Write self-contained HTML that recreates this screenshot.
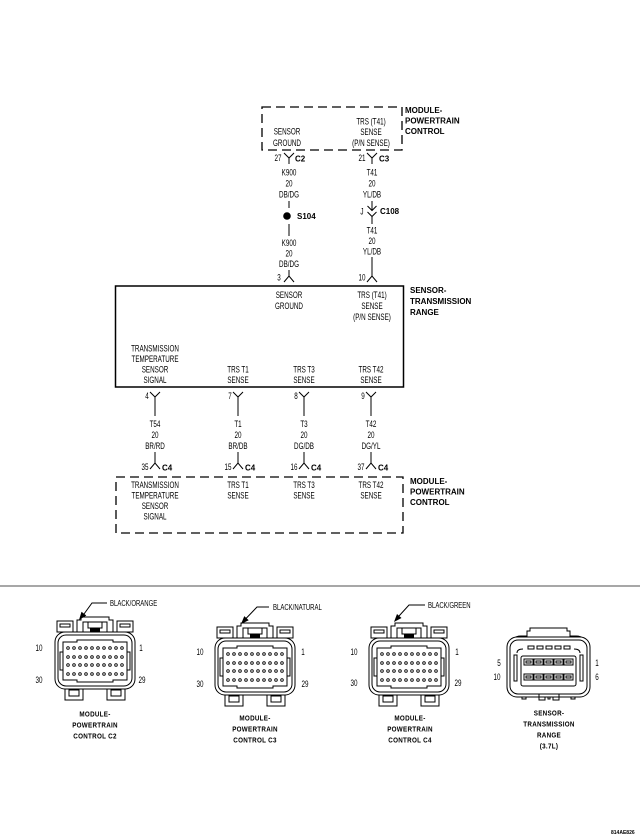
<!DOCTYPE html>
<html><head><meta charset="utf-8"><style>
html,body{margin:0;padding:0;background:#fff}
svg{display:block}
text{font-family:"Liberation Sans",sans-serif;fill:#000}
.n{font-size:9px;text-anchor:middle}
.l{font-size:8px}
.b{font-size:8px;font-weight:bold}
.t{font-size:7px;font-weight:bold;text-anchor:middle;letter-spacing:.3px}
</style></head><body>
<svg width="640" height="838" viewBox="0 0 640 838" xmlns="http://www.w3.org/2000/svg">
<g fill="none" stroke="#000" stroke-width="1.3">
<!-- top dashed box -->
<rect x="262" y="107" width="140" height="43" stroke-dasharray="9 5"/>
<!-- sensor box -->
<rect x="115.5" y="286" width="288" height="101" stroke-width="1.5"/>
<!-- bottom dashed box -->
<rect x="116" y="477" width="287" height="56" stroke-dasharray="9 5"/>
</g>
<g fill="none" stroke="#000" stroke-width="1">
<!-- left wire -->
<path d="M284 153 L289 158 L294 153 M289 158 V164"/>
<path d="M289 201 V208"/>
<path d="M289 224 V236"/>
<path d="M289 270 V276 M284 282 L289 276 L294 282"/>
<!-- right wire -->
<path d="M367 153 L372 158 L377 153 M372 158 V164"/>
<path d="M372 201 V210.5 M367.5 206 L372 210.5 L376.5 206 M367.5 212 L372 216.5 L376.5 212 M372 216.5 V224"/>
<path d="M372 257 V276 M367 282 L372 276 L377 282"/>
<!-- bottom wires -->
<path d="M150 392 L155 397 L160 392 M155 397 V416 M155 452 V463 M150 469 L155 463 L160 469"/>
<path d="M233 392 L238 397 L243 392 M238 397 V416 M238 452 V463 M233 469 L238 463 L243 469"/>
<path d="M299 392 L304 397 L309 392 M304 397 V416 M304 452 V463 M299 469 L304 463 L309 469"/>
<path d="M366 392 L371 397 L376 392 M371 397 V416 M371 452 V463 M366 469 L371 463 L376 469"/>
</g>
<circle cx="287" cy="216" r="3.8" fill="#000"/>

<!-- top box texts -->
<text class="n" transform="translate(287 134.7) scale(.7 1)">SENSOR</text>
<text class="n" transform="translate(287 146.2) scale(.7 1)">GROUND</text>
<text class="n" transform="translate(371 124.7) scale(.7 1)">TRS (T41)</text>
<text class="n" transform="translate(371 135.2) scale(.7 1)">SENSE</text>
<text class="n" transform="translate(371 146.2) scale(.7 1)">(P/N SENSE)</text>
<text class="b" x="405" y="113">MODULE-</text>
<text class="b" x="405" y="123.5">POWERTRAIN</text>
<text class="b" x="405" y="134">CONTROL</text>

<!-- left wire labels -->
<text class="n" transform="translate(278 161.2) scale(.7 1)">27</text>
<text class="b" x="295" y="161.5">C2</text>
<text class="n" transform="translate(289 175.7) scale(.7 1)">K900</text>
<text class="n" transform="translate(289 186.7) scale(.7 1)">20</text>
<text class="n" transform="translate(289 197.7) scale(.7 1)">DB/DG</text>
<text class="b" x="297" y="219">S104</text>
<text class="n" transform="translate(289 246.2) scale(.7 1)">K900</text>
<text class="n" transform="translate(289 256.7) scale(.7 1)">20</text>
<text class="n" transform="translate(289 267.2) scale(.7 1)">DB/DG</text>
<text class="n" transform="translate(279 280.7) scale(.7 1)">3</text>

<!-- right wire labels -->
<text class="n" transform="translate(362 161.2) scale(.7 1)">21</text>
<text class="b" x="379" y="161.5">C3</text>
<text class="n" transform="translate(372 175.7) scale(.7 1)">T41</text>
<text class="n" transform="translate(372 186.7) scale(.7 1)">20</text>
<text class="n" transform="translate(372 197.7) scale(.7 1)">YL/DB</text>
<text class="n" transform="translate(362 214.7) scale(.7 1)">J</text>
<text class="b" x="380" y="214">C108</text>
<text class="n" transform="translate(372 233.7) scale(.7 1)">T41</text>
<text class="n" transform="translate(372 244.2) scale(.7 1)">20</text>
<text class="n" transform="translate(372 254.7) scale(.7 1)">YL/DB</text>
<text class="n" transform="translate(362 280.7) scale(.7 1)">10</text>

<!-- sensor box texts -->
<text class="b" x="410" y="293">SENSOR-</text>
<text class="b" x="410" y="304">TRANSMISSION</text>
<text class="b" x="410" y="315">RANGE</text>
<text class="n" transform="translate(289 298.2) scale(.7 1)">SENSOR</text>
<text class="n" transform="translate(289 309.2) scale(.7 1)">GROUND</text>
<text class="n" transform="translate(372 298.2) scale(.7 1)">TRS (T41)</text>
<text class="n" transform="translate(372 309.2) scale(.7 1)">SENSE</text>
<text class="n" transform="translate(372 320.2) scale(.7 1)">(P/N SENSE)</text>
<text class="n" transform="translate(155 351.7) scale(.7 1)">TRANSMISSION</text>
<text class="n" transform="translate(155 362.2) scale(.7 1)">TEMPERATURE</text>
<text class="n" transform="translate(155 372.7) scale(.7 1)">SENSOR</text>
<text class="n" transform="translate(155 383.2) scale(.7 1)">SIGNAL</text>
<text class="n" transform="translate(238 372.7) scale(.7 1)">TRS T1</text>
<text class="n" transform="translate(238 383.2) scale(.7 1)">SENSE</text>
<text class="n" transform="translate(304 372.7) scale(.7 1)">TRS T3</text>
<text class="n" transform="translate(304 383.2) scale(.7 1)">SENSE</text>
<text class="n" transform="translate(371 372.7) scale(.7 1)">TRS T42</text>
<text class="n" transform="translate(371 383.2) scale(.7 1)">SENSE</text>

<!-- bottom wire labels -->
<text class="n" transform="translate(147 399.2) scale(.7 1)">4</text>
<text class="n" transform="translate(230 399.2) scale(.7 1)">7</text>
<text class="n" transform="translate(296 399.2) scale(.7 1)">8</text>
<text class="n" transform="translate(363 399.2) scale(.7 1)">9</text>

<text class="n" transform="translate(155 427.2) scale(.7 1)">T54</text>
<text class="n" transform="translate(155 438.2) scale(.7 1)">20</text>
<text class="n" transform="translate(155 449.2) scale(.7 1)">BR/RD</text>
<text class="n" transform="translate(238 427.2) scale(.7 1)">T1</text>
<text class="n" transform="translate(238 438.2) scale(.7 1)">20</text>
<text class="n" transform="translate(238 449.2) scale(.7 1)">BR/DB</text>
<text class="n" transform="translate(304 427.2) scale(.7 1)">T3</text>
<text class="n" transform="translate(304 438.2) scale(.7 1)">20</text>
<text class="n" transform="translate(304 449.2) scale(.7 1)">DG/DB</text>
<text class="n" transform="translate(371 427.2) scale(.7 1)">T42</text>
<text class="n" transform="translate(371 438.2) scale(.7 1)">20</text>
<text class="n" transform="translate(371 449.2) scale(.7 1)">DG/YL</text>

<text class="n" transform="translate(145 470.2) scale(.7 1)">35</text>
<text class="b" x="162" y="470.5">C4</text>
<text class="n" transform="translate(228 470.2) scale(.7 1)">15</text>
<text class="b" x="245" y="470.5">C4</text>
<text class="n" transform="translate(294 470.2) scale(.7 1)">16</text>
<text class="b" x="311" y="470.5">C4</text>
<text class="n" transform="translate(361 470.2) scale(.7 1)">37</text>
<text class="b" x="378" y="470.5">C4</text>

<!-- bottom box texts -->
<text class="b" x="410" y="484">MODULE-</text>
<text class="b" x="410" y="494.5">POWERTRAIN</text>
<text class="b" x="410" y="505">CONTROL</text>
<text class="n" transform="translate(155 488.2) scale(.7 1)">TRANSMISSION</text>
<text class="n" transform="translate(155 498.7) scale(.7 1)">TEMPERATURE</text>
<text class="n" transform="translate(155 509.2) scale(.7 1)">SENSOR</text>
<text class="n" transform="translate(155 519.7) scale(.7 1)">SIGNAL</text>
<text class="n" transform="translate(238 488.2) scale(.7 1)">TRS T1</text>
<text class="n" transform="translate(238 498.7) scale(.7 1)">SENSE</text>
<text class="n" transform="translate(304 488.2) scale(.7 1)">TRS T3</text>
<text class="n" transform="translate(304 498.7) scale(.7 1)">SENSE</text>
<text class="n" transform="translate(371 488.2) scale(.7 1)">TRS T42</text>
<text class="n" transform="translate(371 498.7) scale(.7 1)">SENSE</text>

<!-- separator -->
<line x1="0" y1="586" x2="640" y2="586" stroke="#8a8a8a" stroke-width="1.6"/>

<defs>
<g id="conn">
<g fill="none" stroke="#000" stroke-width="1">
<rect x="2" y="-11" width="16" height="11"/>
<rect x="5" y="-8" width="10" height="3"/>
<rect x="62" y="-11" width="16" height="11"/>
<rect x="65" y="-8" width="10" height="3"/>
<path d="M22 6 V-12 H26 V-15 H54 V-12 H58 V6"/>
<rect x="28" y="-10" width="24" height="14"/>
<path d="M33 -10 V-4 H47 V-10"/>
<path d="M10 56 V68 H28 V56"/><rect x="14" y="58" width="10" height="6"/>
<path d="M52 56 V68 H70 V56"/><rect x="56" y="58" width="10" height="6"/>
<rect x="0" y="0" width="80" height="57" rx="10" fill="#fff"/>
<rect x="3" y="3" width="74" height="51" rx="8"/>
<path d="M8 10 H22 V8 H58 V10 H72 V48 H58 V50 H22 V48 H8 Z"/>
<path d="M8 20 H5 V38 H8 M72 20 H75 V38 H72"/>
</g>
<rect x="35" y="-4" width="10" height="4" fill="#000"/>
<g fill="none" stroke="#000" stroke-width=".9">
<circle cx="13" cy="16" r="1.3"/><circle cx="19" cy="16" r="1.3"/><circle cx="25" cy="16" r="1.3"/><circle cx="31" cy="16" r="1.3"/><circle cx="37" cy="16" r="1.3"/><circle cx="43" cy="16" r="1.3"/><circle cx="49" cy="16" r="1.3"/><circle cx="55" cy="16" r="1.3"/><circle cx="61" cy="16" r="1.3"/><circle cx="67" cy="16" r="1.3"/>
<circle cx="13" cy="25" r="1.3"/><circle cx="19" cy="25" r="1.3"/><circle cx="25" cy="25" r="1.3"/><circle cx="31" cy="25" r="1.3"/><circle cx="37" cy="25" r="1.3"/><circle cx="43" cy="25" r="1.3"/><circle cx="49" cy="25" r="1.3"/><circle cx="55" cy="25" r="1.3"/><circle cx="61" cy="25" r="1.3"/><circle cx="67" cy="25" r="1.3"/>
<circle cx="13" cy="33" r="1.3"/><circle cx="19" cy="33" r="1.3"/><circle cx="25" cy="33" r="1.3"/><circle cx="31" cy="33" r="1.3"/><circle cx="37" cy="33" r="1.3"/><circle cx="43" cy="33" r="1.3"/><circle cx="49" cy="33" r="1.3"/><circle cx="55" cy="33" r="1.3"/><circle cx="61" cy="33" r="1.3"/><circle cx="67" cy="33" r="1.3"/>
<circle cx="13" cy="42" r="1.3"/><circle cx="19" cy="42" r="1.3"/><circle cx="25" cy="42" r="1.3"/><circle cx="31" cy="42" r="1.3"/><circle cx="37" cy="42" r="1.3"/><circle cx="43" cy="42" r="1.3"/><circle cx="49" cy="42" r="1.3"/><circle cx="55" cy="42" r="1.3"/><circle cx="61" cy="42" r="1.3"/><circle cx="67" cy="42" r="1.3"/>
</g>
</g>
</defs>

<!-- C2 -->
<use href="#conn" transform="translate(55 632)"/>
<path d="M107 603 H92 L84 614" fill="none" stroke="#000" stroke-width="1"/>
<polygon points="79,620 86.3,615.5 81.5,611.8" fill="#000"/>
<text class="l" transform="translate(110 606) scale(.75 1)">BLACK/ORANGE</text>
<text class="n" transform="translate(39 651.2) scale(.7 1)">10</text>
<text class="n" transform="translate(141 651.2) scale(.7 1)">1</text>
<text class="n" transform="translate(39 683.2) scale(.7 1)">30</text>
<text class="n" transform="translate(142 683.2) scale(.7 1)">29</text>
<text class="t" transform="translate(95 716.5) scale(.9 1)">MODULE-</text>
<text class="t" transform="translate(95 727.5) scale(.9 1)">POWERTRAIN</text>
<text class="t" transform="translate(95 738.5) scale(.9 1)">CONTROL C2</text>

<!-- C3 -->
<use href="#conn" transform="translate(215 638)"/>
<path d="M269 607 H257 L246 618.5" fill="none" stroke="#000" stroke-width="1"/>
<polygon points="241,624 248.7,620.2 244.3,616.1" fill="#000"/>
<text class="l" transform="translate(273 610) scale(.75 1)">BLACK/NATURAL</text>
<text class="n" transform="translate(200 655.2) scale(.7 1)">10</text>
<text class="n" transform="translate(303 655.2) scale(.7 1)">1</text>
<text class="n" transform="translate(200 687.2) scale(.7 1)">30</text>
<text class="n" transform="translate(305 687.2) scale(.7 1)">29</text>
<text class="t" transform="translate(255 720.5) scale(.9 1)">MODULE-</text>
<text class="t" transform="translate(255 731.5) scale(.9 1)">POWERTRAIN</text>
<text class="t" transform="translate(255 742.5) scale(.9 1)">CONTROL C3</text>

<!-- C4 -->
<use href="#conn" transform="translate(369 638)"/>
<path d="M425 605 H409 L399 616" fill="none" stroke="#000" stroke-width="1"/>
<polygon points="394,622 401.5,618 397,614" fill="#000"/>
<text class="l" transform="translate(428 608) scale(.75 1)">BLACK/GREEN</text>
<text class="n" transform="translate(354 655.2) scale(.7 1)">10</text>
<text class="n" transform="translate(457 655.2) scale(.7 1)">1</text>
<text class="n" transform="translate(354 686.2) scale(.7 1)">30</text>
<text class="n" transform="translate(458 686.2) scale(.7 1)">29</text>
<text class="t" transform="translate(410 720.5) scale(.9 1)">MODULE-</text>
<text class="t" transform="translate(410 731.5) scale(.9 1)">POWERTRAIN</text>
<text class="t" transform="translate(410 742.5) scale(.9 1)">CONTROL C4</text>

<!-- Sensor TR connector -->
<g transform="translate(507 637)" fill="none" stroke="#000" stroke-width="1">
<path d="M20 2 V-6 H23 V-9 H60 V-6 H63 V2"/>
<path d="M4 10 Q4 -1 14 -1 H20 M79 10 Q79 -1 69 -1 H63"/>
<rect x="0" y="0" width="83" height="60" rx="10" fill="#fff"/>
<rect x="3" y="3" width="77" height="54" rx="8"/>
<rect x="21" y="9" width="6" height="3"/><rect x="30" y="9" width="6" height="3"/><rect x="39" y="9" width="6" height="3"/><rect x="48" y="9" width="6" height="3"/><rect x="57" y="9" width="6" height="3"/>
<path d="M10 16 Q10 12 16 12 M73 16 Q73 12 67 12"/>
<rect x="7" y="18" width="3" height="26"/><rect x="73" y="18" width="3" height="26"/>
<rect x="14" y="19" width="55" height="30" rx="2"/>
<rect x="17" y="22" width="9" height="6"/><rect x="27" y="22" width="9" height="6"/><rect x="37" y="22" width="9" height="6"/><rect x="47" y="22" width="9" height="6"/><rect x="57" y="22" width="9" height="6"/>
<rect x="19" y="24" width="5" height="2"/><rect x="29" y="24" width="5" height="2"/><rect x="39" y="24" width="5" height="2"/><rect x="49" y="24" width="5" height="2"/><rect x="59" y="24" width="5" height="2"/>
<rect x="17" y="37" width="9" height="6"/><rect x="27" y="37" width="9" height="6"/><rect x="37" y="37" width="9" height="6"/><rect x="47" y="37" width="9" height="6"/><rect x="57" y="37" width="9" height="6"/>
<rect x="19" y="39" width="5" height="2"/><rect x="29" y="39" width="5" height="2"/><rect x="39" y="39" width="5" height="2"/><rect x="49" y="39" width="5" height="2"/><rect x="59" y="39" width="5" height="2"/>
<path d="M32 57 V63 H38 V60 M46 60 V63 H52 V57"/>
<rect x="15" y="60" width="4" height="2"/><rect x="64" y="60" width="4" height="2"/><rect x="41" y="60" width="2" height="2"/>
</g>
<text class="n" transform="translate(499 666.2) scale(.7 1)">5</text>
<text class="n" transform="translate(597 666.2) scale(.7 1)">1</text>
<text class="n" transform="translate(497 680.2) scale(.7 1)">10</text>
<text class="n" transform="translate(597 680.2) scale(.7 1)">6</text>
<text class="t" transform="translate(549 715.5) scale(.9 1)">SENSOR-</text>
<text class="t" transform="translate(549 726.5) scale(.9 1)">TRANSMISSION</text>
<text class="t" transform="translate(549 737.5) scale(.9 1)">RANGE</text>
<text class="t" transform="translate(549 748.5) scale(.9 1)">(3.7L)</text>

<text x="611" y="834" style="font-size:5px;font-weight:bold">814AE826</text>
</svg>
</body></html>
